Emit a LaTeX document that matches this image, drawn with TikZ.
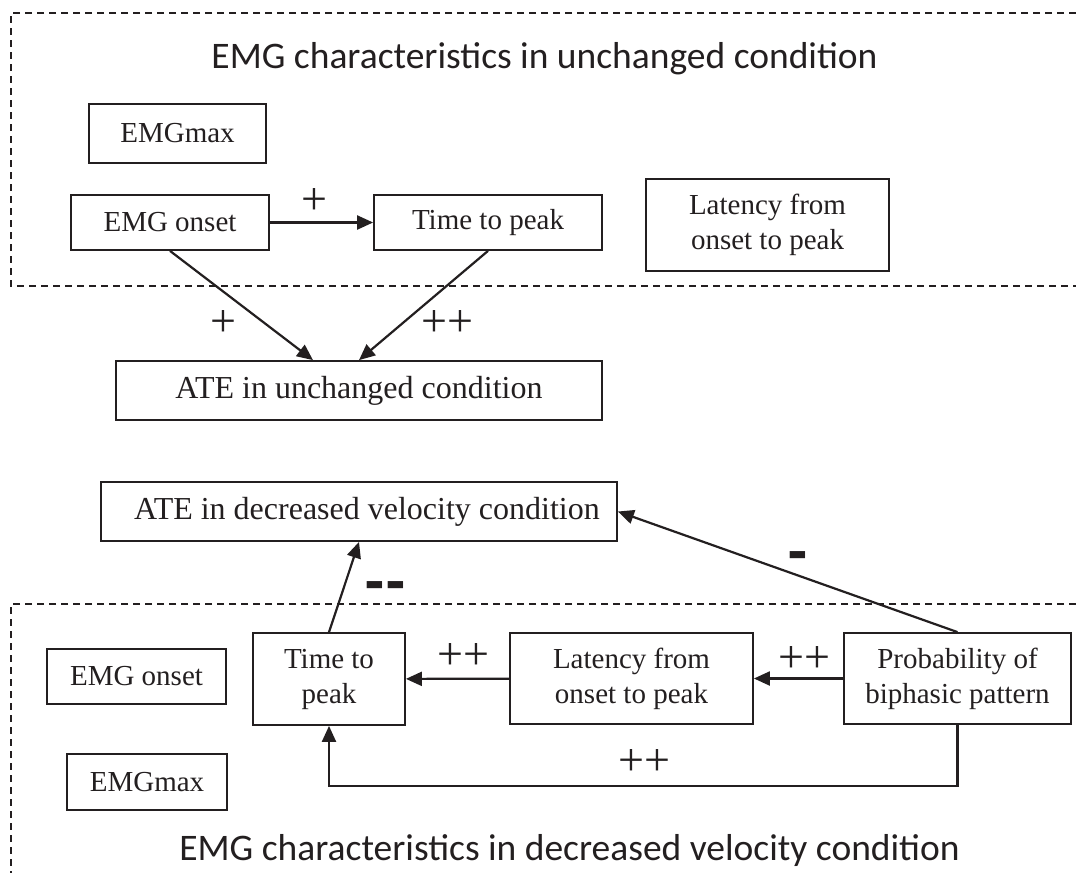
\documentclass[tikz,border=0pt]{standalone}
\usepackage{fontspec}
\setmainfont{Liberation Serif}
\newfontfamily\titlefont{Carlito}
\newfontfamily\signfont{DejaVu Sans}
\usetikzlibrary{arrows.meta,calc}
\definecolor{ink}{HTML}{231F20}

\begin{document}
\begin{tikzpicture}[
  x=1pt, y=-1pt,
  box/.style={draw=ink, text=ink, line width=1.8pt, inner sep=0pt, align=center, font=\fontsize{29}{35}\selectfont},
  bigbox/.style={box, font=\fontsize{32}{38}\selectfont},
  arrow/.style={-{Triangle[length=16pt,width=14pt]}, line width=2.2pt, ink},
  frame/.style={dash pattern=on 7pt off 5pt, line width=1.4pt, ink},
  plus/.style={text=ink, inner sep=0pt, font=\fontsize{46}{46}\selectfont},
  minus/.style={text=ink, inner sep=0pt, font=\signfont\bfseries\fontsize{50}{50}\selectfont},
  title/.style={text=ink, inner sep=0pt, anchor=base, font=\titlefont\fontsize{37.5}{37.5}\selectfont}
]
  \fill[white] (0,0) rectangle (1076,873);
  \useasboundingbox (0,0) rectangle (1076,873);

  % Dashed frames
  \draw[frame] (1076,13) -- (11,13) -- (11,286) -- (1076,286);
  \draw[frame] (1076,604) -- (11,604) -- (11,873);

  % Unchanged condition
  \node[title] (titleU) at (544.5,68) {EMG characteristics in unchanged condition};
  \node[box, minimum width=177pt, minimum height=59pt] (emgmaxU) at (177.5,133.5) {EMGmax};
  \node[box, minimum width=198pt, minimum height=55pt] (onsetU) at (170,222.5) {EMG onset};
  \node[box, minimum width=228pt, minimum height=55pt] (ttpU) at (488,222.5) {Time to peak};
  \node[box, minimum width=243pt, minimum height=92pt] (latU) at (767.5,225) {Latency from\\onset to peak};
  \node[bigbox, minimum width=486pt, minimum height=59pt] (ateU) at (359,390.5) {ATE in unchanged condition};

  % Decreased velocity condition
  \node[bigbox, minimum width=516pt, minimum height=59pt] (ateD) at (359,511.5) {\hspace*{16pt}ATE in decreased velocity condition};
  \node[box, minimum width=179pt, minimum height=55pt] (onsetD) at (136.5,676.5) {EMG onset};
  \node[box, minimum width=152pt, minimum height=92pt] (ttpD) at (329,679) {Time to\\peak};
  \node[box, minimum width=243pt, minimum height=91pt] (latD) at (631.5,678.5) {Latency from\\onset to peak};
  \node[box, minimum width=227pt, minimum height=91pt] (probD) at (957.5,678.5) {Probability of\\biphasic pattern};
  \node[box, minimum width=160pt, minimum height=56pt] (emgmaxD) at (147,782) {EMGmax};
  \node[title] (titleD) at (569.5,860) {EMG characteristics in decreased velocity condition};

  % Connectors
  \coordinate (loopD) at (0,786);
  \draw[arrow] (onsetU) -- (ttpU);
  \draw[arrow] (onsetU.south) -- ($(ateU.north)+(-46,0)$);
  \draw[arrow] (ttpU.south) -- (ateU.north);
  \draw[arrow] (ttpD.north) -- (ateD.south);
  \draw[arrow] (probD.north) -- (ateD.east);
  \draw[arrow] (probD) -- (latD);
  \draw[arrow] (latD) -- (ttpD);
  \draw[arrow] (probD.south) -- (probD.south |- loopD) -| (ttpD.south);

  % Signs
  \node[plus] (sOnTtp) at (314,202) {+};
  \node[plus] (sOnAte) at (223,323) {+};
  \node[plus] (sTtpAte) at (447,323) {++};
  \node[minus] (sTtpD) at (385,591) {-{}-};
  \node[minus] (sProbAte) at (798,561) {-};
  \node[plus] (sLatTtp) at (463,656) {++};
  \node[plus] (sProbLat) at (804,659) {++};
  \node[plus] (sProbTtp) at (644,762) {++};
\end{tikzpicture}
\end{document}
